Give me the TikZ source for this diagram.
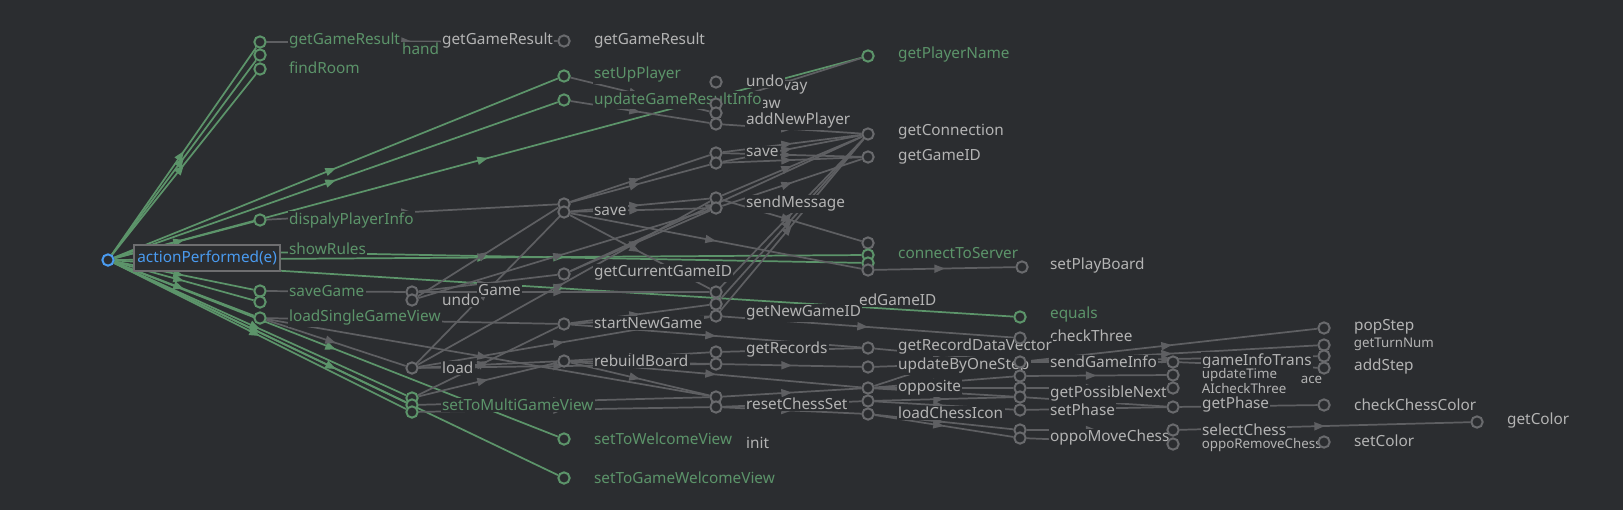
\documentclass[tikz,border=0pt]{standalone}
\usepackage{fontspec}
\newfontfamily\lblfont{Noto Sans}
\usetikzlibrary{arrows.meta,decorations.markings}

\definecolor{bgc}{RGB}{43,45,48}
\definecolor{cgreen}{RGB}{92,148,106}
\definecolor{cline}{RGB}{94,95,98}
\definecolor{cgray}{RGB}{105,106,109}
\definecolor{ctext}{RGB}{180,180,180}
\definecolor{cblue}{RGB}{74,155,240}
\definecolor{cbox}{RGB}{110,110,112}

\pgfdeclarelayer{edges}
\pgfsetlayers{edges,main}

\tikzset{every picture/.style={line width=1.2pt},
  fn/.style={circle, draw=cgray, fill=bgc, line width=1.5pt, minimum size=8.5pt, inner sep=0pt},
  fng/.style={fn, draw=cgreen},
  lbl/.style={anchor=west, fill=bgc, text=ctext, inner sep=1pt, font={\lblfont\fontsize{11.5}{13}\selectfont}},
  lblg/.style={lbl, text=cgreen},
  lblsm/.style={lbl, inner sep=0pt, font={\lblfont\fontsize{10}{11}\selectfont}},
  call/.style={color=cline, line width=1.3pt, postaction={decorate},
    decoration={markings, mark=at position 0.5 with {\arrow{Triangle[length=8pt,width=6pt]}}}},
  callg/.style={call, color=cgreen}}

\begin{document}
\begin{tikzpicture}[x=0.75pt,y=0.75pt,yscale=-1,xscale=1]
	\useasboundingbox (0,0) rectangle (1623,510);

	%Shape: Circle hidden under a label
	\node[fn] (setPlayBoard) at (1022,267) {};

	% Text Nodes, right part
	\node[lbl] (getColor-t) at (1505,421) {getColor};
	\node[lbl] (popStep-t) at (1352,327) {popStep};
	\node[lblsm] (getTurnNum-t) at (1353,344) {getTurnNum};
	\node[lbl] (addStep-t) at (1352,367) {addStep};
	\node[lbl] (checkChessColor-t) at (1352,405) {checkChessColor};
	\node[lbl] (setColor-t) at (1352,441) {setColor};
	\node[lblsm] (ace-t) at (1300,380) {ace};
	\node[lbl] (gameInfoTrans-t) at (1200,361) {gameInfoTrans};
	\node[lblsm] (updateTime-t) at (1201,375) {updateTime};
	\node[lblsm] (AIcheckThree-t) at (1201,388) {AIcheckThree};
	\node[lbl] (getPhase-t) at (1200,405) {getPhase};
	\node[lbl] (selectChess-t) at (1200,430) {selectChess};
	\node[lblsm] (oppoRemoveChess-t) at (1201,445) {oppoRemoveChess};
	\node[lbl] (setPlayBoard-t) at (1048,266) {setPlayBoard};
	\node[lblg] (equals-t) at (1048,315) {equals};
	\node[lbl] (checkThree-t) at (1048,336) {checkThree};
	\node[lbl] (sendGameInfo-t) at (1048,362) {sendGameInfo};
	\node[lbl] (getPossibleNext-t) at (1048,394) {getPossibleNext};
	\node[lbl] (setPhase-t) at (1048,410) {setPhase};
	\node[lbl] (oppoMoveChess-t) at (1048,438) {oppoMoveChess};

	% Text Nodes, middle part
	\node[lblg] (getPlayerName-t) at (896,55) {getPlayerName};
	\node[lbl] (getConnection-t) at (896,132) {getConnection};
	\node[lbl] (getGameID-t) at (896,157) {getGameID};
	\node[lblg] (connectToServer-t) at (896,253) {connectToServer};
	\node[lbl] (getRecordDataVector-t) at (896,347) {getRecordDataVector};
	\node[lbl] (updateByOneStep-t) at (896,366) {updateByOneStep};
	\node[lbl] (opposite-t) at (896,388) {opposite};
	\node[lbl] (loadChessIcon-t) at (896,413) {loadChessIcon};
	\node[lbl] (vay-t) at (781,88) {vay};
	\node[lbl] (undo4-t) at (744,81) {undo};
	\node[lbl] (draw4-t) at (758,104) {aw};
	\node[lbl] (addNewPlayer-t) at (744,121) {addNewPlayer};
	\node[lbl] (save4-t) at (744,152) {save};
	\node[lbl] (sendMessage-t) at (744,204) {sendMessage};
	\node[lbl] (unfG-t) at (857,300) {edGameID};
	\node[lbl] (getNewGameID-t) at (744,313) {getNewGameID};
	\node[lbl] (getRecords-t) at (744,350) {getRecords};
	\node[lbl] (resetChessSet-t) at (744,404) {resetChessSet};
	\node[lbl] (init-t) at (744,443) {init};

	% Text Nodes, left part
	\node[lbl] (gr3-t) at (592,41) {getGameResult};
	\node[lblg] (setUpPlayer-t) at (592,75) {setUpPlayer};
	\node[lblg] (updateGameResultInfo-t) at (592,100) {updateGameResultInfo};
	\node[lbl] (save3-t) at (592,211) {save};
	\node[lbl] (getCurrentGameID-t) at (592,273) {getCurrentGameID};
	\node[lbl] (startNewGame-t) at (592,323) {startNewGame};
	\node[lbl] (rebuildBoard-t) at (592,361) {rebuildBoard};
	\node[lblg] (setToWelcomeView-t) at (592,439) {setToWelcomeView};
	\node[lblg] (setToGameWelcomeView-t) at (592,478) {setToGameWelcomeView};
	\node[lbl] (gr2-t) at (440,41) {getGameResult};
	\node[lbl] (loadGame-t) at (476,290) {Game};
	\node[lbl] (undo2-t) at (440,300) {undo};
	\node[lbl] (load-t) at (440,368) {load};
	\node[lblg] (setToMultiGameView-t) at (440,405) {setToMultiGameView};
	\node[lblg] (getGameResult-t) at (287,41) {getGameResult};
	\node[lblg] (hand-t) at (400,49) {hand};
	\node[lblg] (findRoom-t) at (287,68) {findRoom};
	\node[lblg] (dispalyPlayerInfo-t) at (287,220) {dispalyPlayerInfo};
	\node[lblg] (showRules-t) at (287,249) {showRules};
	\node[lblg] (saveGame-t) at (287,291) {saveGame};
	\node[lblg] (loadSingleGameView-t) at (287,318) {loadSingleGameView};

	%Shape: Circles, column 1
	\node[fng] (getGameResult) at (260,42) {};
	\node[fng] (gr1b) at (260,55) {};
	\node[fng] (findRoom) at (260,69) {};
	\node[fng] (dispalyPlayerInfo) at (260,220) {};
	\node[fng] (showRules) at (260,252) {};
	\node[fng] (saveGame) at (260,291) {};
	\node[fng] (c1undo) at (260,302) {};
	\node[fng] (loadSingleGameView) at (260,318) {};
	%Shape: Circles, column 2
	\node[fn] (loadGame) at (412,292) {};
	\node[fn] (undo2) at (412,300) {};
	\node[fn] (load) at (412,368) {};
	\node[fng] (multi1) at (412,398) {};
	\node[fng] (multi2) at (412,405) {};
	\node[fng] (multi3) at (412,412) {};
	%Shape: Circles, column 3
	\node[fn] (gr3) at (564,41) {};
	\node[fng] (setUpPlayer) at (564,76) {};
	\node[fng] (updateGameResultInfo) at (564,100) {};
	\node[fn] (save3a) at (564,204) {};
	\node[fn] (save3b) at (564,212) {};
	\node[fn] (getCurrentGameID) at (564,274) {};
	\node[fn] (startNewGame) at (564,324) {};
	\node[fn] (rebuildBoard) at (564,361) {};
	\node[fng] (setToWelcomeView) at (564,439) {};
	\node[fng] (setToGameWelcomeView) at (564,478) {};
	%Shape: Circles, column 4
	\node[fn] (undo4) at (716,82) {};
	\node[fn] (draw4) at (716,104) {};
	\node[fn] (p4) at (716,113) {};
	\node[fn] (addNewPlayer) at (716,124) {};
	\node[fn] (save4a) at (716,153) {};
	\node[fn] (save4b) at (716,163) {};
	\node[fn] (send4a) at (716,198) {};
	\node[fn] (send4b) at (716,208) {};
	\node[fn] (unfP) at (716,292) {};
	\node[fn] (unfG) at (716,304) {};
	\node[fn] (getNewGameID) at (716,316) {};
	\node[fn] (getRecords4a) at (716,352) {};
	\node[fn] (getRecords4b) at (716,364) {};
	\node[fn] (reset4a) at (716,397) {};
	\node[fn] (reset4b) at (716,407) {};
	%Shape: Circles, column 5
	\node[fng] (getPlayerName) at (868,56) {};
	\node[fn] (getConnection) at (868,134) {};
	\node[fn] (getGameID) at (868,157) {};
	\node[fn] (conn0) at (868,243) {};
	\node[fng] (conn1) at (868,255) {};
	\node[fng] (conn2) at (868,263) {};
	\node[fn] (conn3) at (868,270) {};
	\node[fn] (getRecordDataVector) at (868,348) {};
	\node[fn] (updateByOneStep) at (868,367) {};
	\node[fn] (oppA) at (868,388) {};
	\node[fn] (oppB) at (868,401) {};
	\node[fn] (loadChessIcon) at (868,414) {};
	%Shape: Circles, column 6
	\node[fng] (equals) at (1020,317) {};
	\node[fn] (checkThree) at (1020,338) {};
	\node[fn] (sendGameInfo) at (1020,362) {};
	\node[fn] (c6a) at (1020,376) {};
	\node[fn] (c6b) at (1020,388) {};
	\node[fn] (getPossibleNext) at (1020,397) {};
	\node[fn] (setPhase) at (1020,410) {};
	\node[fn] (oppoA) at (1020,430) {};
	\node[fn] (oppoB) at (1020,438) {};
	%Shape: Circles, column 7
	\node[fn] (gameInfoTrans) at (1173,362) {};
	\node[fn] (updateTime) at (1173,375) {};
	\node[fn] (AIcheckThree) at (1173,388) {};
	\node[fn] (getPhase) at (1173,407) {};
	\node[fn] (selectChess) at (1173,430) {};
	\node[fn] (oppoRemoveChess) at (1173,444) {};
	%Shape: Circles, column 8
	\node[fn] (popStep) at (1324,328) {};
	\node[fn] (getTurnNum) at (1324,345) {};
	\node[fn] (c8) at (1324,356) {};
	\node[fn] (addStep) at (1324,368) {};
	\node[fn] (checkChessColor) at (1324,405) {};
	\node[fn] (setColor) at (1324,442) {};
	\node[fn] (getColor) at (1477,422) {};

	%Shape: Root
	\node[circle, draw=cblue, fill=bgc, line width=1.5pt, minimum size=8.5pt, inner sep=0pt] (root) at (108,260) {};
	\node[lbl, draw=cbox, text=cblue, line width=1.5pt, inner sep=2.5pt, minimum height=19pt] (root-t) at (133,258) {actionPerformed(e)};

	\begin{pgfonlayer}{edges}
	\fill[bgc] (0,0) rectangle (1623,510);
	%Green calls
	\foreach \t in {getGameResult,gr1b,findRoom,setUpPlayer,updateGameResultInfo,getPlayerName,dispalyPlayerInfo,conn1,equals,saveGame,c1undo,loadSingleGameView,multi1,multi2,multi3,setToWelcomeView,setToGameWelcomeView}
		\draw[callg] (root) -- (\t);
	\draw[callg] (showRules) -- (conn2);
	%Gray calls
	\foreach \s/\t in {getGameResult/gr3,setUpPlayer/p4,updateGameResultInfo/addNewPlayer,draw4/getPlayerName,
		dispalyPlayerInfo/save3a,saveGame/loadGame,loadSingleGameView/load,loadSingleGameView/startNewGame,loadSingleGameView/reset4a,
		undo2/save3a,undo2/send4b,loadGame/getCurrentGameID,loadGame/unfP,load/save3b,load/send4a,load/getNewGameID,load/rebuildBoard,load/getRecords4b,
		multi1/startNewGame,multi1/rebuildBoard,multi2/reset4a,multi3/reset4b,
		save3a/save4a,save3a/save4b,save3b/send4a,save3b/send4b,save3b/conn3,save3b/unfP,
		getCurrentGameID/send4b,getCurrentGameID/getConnection,startNewGame/getNewGameID,startNewGame/unfG,startNewGame/getRecordDataVector,
		rebuildBoard/getRecords4a,rebuildBoard/getRecords4b,rebuildBoard/reset4a,rebuildBoard/oppA,
		save4a/getConnection,save4b/getConnection,save4a/getGameID,save4b/getGameID,addNewPlayer/getConnection,send4a/getConnection,send4b/getGameID,send4a/conn0,
		unfP/getConnection,unfG/getConnection,getNewGameID/getConnection,getNewGameID/checkThree,
		getRecords4a/getRecordDataVector,getRecords4b/updateByOneStep,reset4a/oppA,reset4b/oppB,reset4b/loadChessIcon,conn3/setPlayBoard,
		updateByOneStep/sendGameInfo,oppA/checkThree,oppA/c6a,oppA/c6b,oppA/getPossibleNext,oppB/setPhase,oppB/getPossibleNext,loadChessIcon/oppoA,loadChessIcon/oppoB,
		getRecordDataVector/sendGameInfo,sendGameInfo/gameInfoTrans,sendGameInfo/popStep,sendGameInfo/getTurnNum,sendGameInfo/c8,
		c6a/updateTime,c6b/AIcheckThree,setPhase/getPhase,getPossibleNext/getPhase,getPhase/checkChessColor,
		oppoA/selectChess,oppoB/oppoRemoveChess,selectChess/getColor,gameInfoTrans/addStep}
		\draw[call] (\s) -- (\t);
	\end{pgfonlayer}

\end{tikzpicture}
\end{document}
